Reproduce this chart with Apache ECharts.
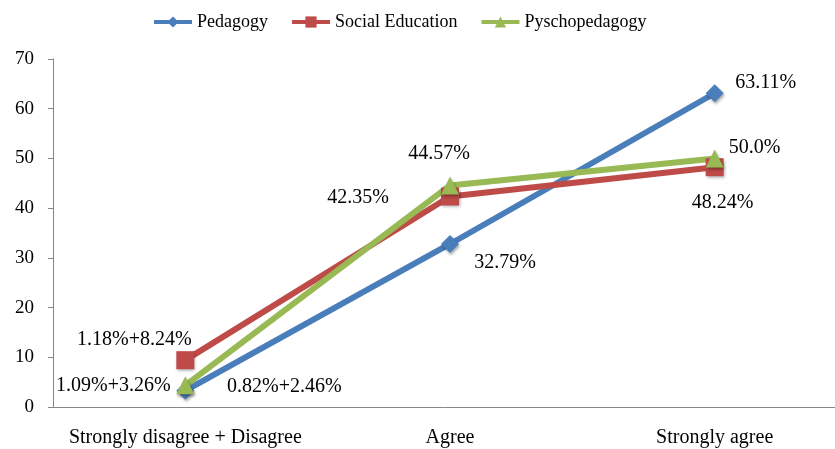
<!DOCTYPE html>
<html>
<head>
<meta charset="utf-8">
<script src="https://cdn.jsdelivr.net/npm/echarts@6/dist/echarts.min.js"></script>
<style>
  html, body { margin: 0; padding: 0; background: #fff; }
  #chart { width: 835px; height: 449px; }
</style>
</head>
<body>
<div id="chart"></div>
<script>
const categories = ['Strongly disagree + Disagree', 'Agree', 'Strongly agree']
const yTicks = [0, 10, 20, 30, 40, 50, 60, 70]

const pedagogy = [3.28, 32.79, 63.11]
const socialEducation = [9.42, 42.35, 48.24]
const pyschopedagogy = [4.35, 44.57, 50.0]

const pedagogyLabels = ['0.82%+2.46%', '32.79%', '63.11%']
const socialLabels = ['1.18%+8.24%', '42.35%', '48.24%']
const pyschoLabels = ['1.09%+3.26%', '44.57%', '50.0%']

const font = 'Liberation Serif'
const textColor = '#000'

// where each value label sits relative to its point
const pedagogyOffsets = [[99, -4], [55, 19], [51, -11]]
const socialOffsets = [[-51, -20], [-92, 1], [8, 36]]
const pyschoOffsets = [[-72, 0], [-11, -32], [40, -11]]

function buildData(values, labels, offsets) {
  return values.map((v, i) => ({
    value: v,
    label: {
      show: true,
      position: 'inside',
      offset: offsets[i],
      formatter: labels[i],
    },
  }))
}

function makeSeries(name, values, labels, offsets, color, symbol, size) {
  return {
    name,
    type: 'line',
    data: buildData(values, labels, offsets),
    symbol,
    symbolSize: size,
    lineStyle: { color, width: 6 },
    itemStyle: {
      color,
      shadowColor: 'rgba(0, 0, 0, 0.35)',
      shadowBlur: 3,
      shadowOffsetX: 1,
      shadowOffsetY: 2,
    },
    label: {
      color: textColor,
      fontFamily: font,
      fontSize: 20,
    },
    emphasis: { disabled: true },
  }
}

const chart = echarts.init(document.getElementById('chart'))

const option = {
  animation: false,
  legend: {
    top: 8,
    left: 147,
    itemWidth: 38,
    itemHeight: 14,
    itemGap: 22,
    lineStyle: { width: 4 },
    textStyle: {
      color: textColor,
      fontFamily: font,
      fontSize: 18,
    },
  },
  grid: {
    top: 59,
    left: 53,
    width: 794,
    height: 348,
    outerBoundsMode: 'none',
    containLabel: false,
  },
  xAxis: {
    type: 'category',
    data: categories,
    axisLine: { lineStyle: { color: '#868686', width: 1 } },
    axisTick: { show: false },
    axisLabel: {
      interval: 0,
      color: textColor,
      fontFamily: font,
      fontSize: 20,
      margin: 21,
    },
  },
  yAxis: {
    type: 'value',
    min: yTicks[0],
    max: yTicks[yTicks.length - 1],
    interval: 10,
    axisLine: { show: true, lineStyle: { color: '#868686', width: 1 } },
    axisTick: { show: true, length: 5, lineStyle: { color: '#868686' } },
    splitLine: { show: false },
    axisLabel: {
      color: textColor,
      fontFamily: font,
      fontSize: 19,
      margin: 19,
    },
  },
  series: [
    makeSeries('Pedagogy', pedagogy, pedagogyLabels, pedagogyOffsets, '#4A7EBB', 'diamond', 18),
    makeSeries('Social Education', socialEducation, socialLabels, socialOffsets, '#BE4B48', 'rect', 18),
    makeSeries('Pyschopedagogy', pyschopedagogy, pyschoLabels, pyschoOffsets, '#98B954', 'triangle', 18),
  ],
}

chart.setOption(option)
</script>
</body>
</html>
